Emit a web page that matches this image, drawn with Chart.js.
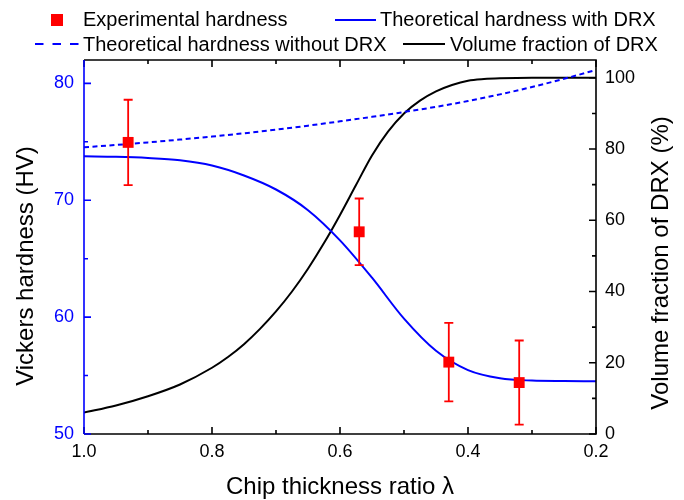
<!DOCTYPE html>
<html>
<head>
<meta charset="utf-8">
<script src="https://cdn.jsdelivr.net/npm/chart.js@4.4.1/dist/chart.umd.min.js"></script>
<style>
html,body{margin:0;padding:0;background:#fff;}
canvas{display:block;}
</style>
</head>
<body>
<canvas id="c" width="684" height="500"></canvas>
<script>
// ---- data ----
const lambdaCurve   = [1.00, 0.95, 0.90, 0.85, 0.80, 0.75, 0.70, 0.65, 0.60, 0.55, 0.50, 0.45, 0.40, 0.35, 0.30, 0.25, 0.20];
const hvWithDRX     = [73.76, 73.72, 73.62, 73.42, 72.97, 72.12, 70.92, 69.15, 66.57, 63.37, 59.87, 57.12, 55.47, 54.77, 54.57, 54.53, 54.52];
const hvWithoutDRX  = [74.53, 74.73, 74.95, 75.19, 75.45, 75.73, 76.04, 76.38, 76.75, 77.14, 77.55, 77.99, 78.49, 79.06, 79.69, 80.39, 81.15];

const lambdaDRX     = [1.00, 0.95, 0.90, 0.85, 0.80, 0.775, 0.75, 0.725, 0.70, 0.675, 0.65, 0.625, 0.60, 0.575, 0.55, 0.525, 0.50, 0.475, 0.45, 0.425, 0.40, 0.375, 0.35, 0.30, 0.25, 0.20];
const drxFraction   = [6.0, 8.0, 10.6, 13.9, 18.6, 21.6, 25.2, 29.5, 34.4, 40.0, 46.4, 53.6, 61.5, 69.9, 78.2, 84.9, 90.0, 93.6, 96.2, 98.0, 99.2, 99.65, 99.85, 100, 100, 100];

const lambdaExp = [0.931, 0.570, 0.430, 0.320];
const hvExp     = [74.95, 67.3, 56.15, 54.4];
const hvErr     = [3.65, 2.85, 3.35, 3.6];

const xTickValues       = [1.0, 0.8, 0.6, 0.4, 0.2];
const xMinorTickValues  = [0.9, 0.7, 0.5, 0.3];
const yLeftTickValues   = [50, 60, 70, 80];
const yLeftMinorValues  = [55, 65, 75];
const yRightTickValues  = [0, 20, 40, 60, 80, 100];
const yRightMinorValues = [10, 30, 50, 70, 90];

const legendLabels = ['Experimental hardness', 'Theoretical hardness with DRX', 'Theoretical hardness without DRX', 'Volume fraction of DRX'];
const xTitle = 'Chip thickness ratio \u03bb';
const yLeftTitle = 'Vickers hardness (HV)';
const yRightTitle = 'Volume fraction of DRX (%)';

// ---- styles ----
const FONT = '"Liberation Sans", Arial, Helvetica, sans-serif';
const RED = '#ff0000';
const BLUE = '#0000ff';
const BLACK = '#000000';
Chart.defaults.font.family = FONT;

const pts = (xs, ys) => xs.map((x, i) => ({x: x, y: ys[i]}));

const decor = {
  id: 'decor',
  afterDatasetsDraw(chart) {
    const {ctx, scales} = chart;
    const x = scales.x, yl = scales.yL;
    ctx.save();
    ctx.strokeStyle = RED;
    ctx.lineWidth = 1.8;
    lambdaExp.forEach((l, i) => {
      const px = x.getPixelForValue(l);
      const top = yl.getPixelForValue(hvExp[i] + hvErr[i]);
      const bot = yl.getPixelForValue(hvExp[i] - hvErr[i]);
      ctx.beginPath();
      ctx.moveTo(px, top); ctx.lineTo(px, bot);
      ctx.moveTo(px - 4.5, top); ctx.lineTo(px + 4.5, top);
      ctx.moveTo(px - 4.5, bot); ctx.lineTo(px + 4.5, bot);
      ctx.stroke();
    });
    ctx.restore();
  },
  afterDraw(chart) {
    const {ctx, chartArea: a, scales} = chart;
    const x = scales.x, yl = scales.yL, yr = scales.yR;
    ctx.save();
    ctx.lineWidth = 1.6;
    // frame
    ctx.strokeStyle = BLACK;
    ctx.beginPath();
    ctx.moveTo(a.left, a.top); ctx.lineTo(a.right, a.top); ctx.lineTo(a.right, a.bottom); ctx.lineTo(a.left, a.bottom);
    ctx.stroke();
    // inward ticks: x (bottom + top)
    const tick = (x1, y1, x2, y2) => { ctx.moveTo(x1, y1); ctx.lineTo(x2, y2); };
    ctx.beginPath();
    xTickValues.forEach(v => { const p = x.getPixelForValue(v); tick(p, a.bottom, p, a.bottom - 7); tick(p, a.top, p, a.top + 7); });
    xMinorTickValues.forEach(v => { const p = x.getPixelForValue(v); tick(p, a.bottom, p, a.bottom - 4); tick(p, a.top, p, a.top + 4); });
    // right axis ticks
    yRightTickValues.forEach(v => { const p = yr.getPixelForValue(v); tick(a.right, p, a.right - 7, p); });
    yRightMinorValues.forEach(v => { const p = yr.getPixelForValue(v); tick(a.right, p, a.right - 4, p); });
    ctx.stroke();
    // left axis (blue)
    ctx.strokeStyle = BLUE;
    ctx.beginPath();
    tick(a.left, a.top, a.left, a.bottom);
    yLeftTickValues.forEach(v => { const p = yl.getPixelForValue(v); tick(a.left, p, a.left + 7, p); });
    yLeftMinorValues.forEach(v => { const p = yl.getPixelForValue(v); tick(a.left, p, a.left + 4, p); });
    ctx.stroke();

    // axis titles
    ctx.fillStyle = BLACK;
    ctx.font = '24px ' + FONT;
    ctx.textAlign = 'center';
    ctx.textBaseline = 'alphabetic';
    ctx.fillText(xTitle, (a.left + a.right) / 2, 494);
    ctx.save();
    ctx.translate(33, 266);
    ctx.rotate(-Math.PI / 2);
    ctx.fillText(yLeftTitle, 0, 0);
    ctx.restore();
    ctx.save();
    ctx.translate(668, 263);
    ctx.rotate(-Math.PI / 2);
    ctx.fillText(yRightTitle, 0, 0);
    ctx.restore();

    // legend
    ctx.font = '20px ' + FONT;
    ctx.textAlign = 'left';
    ctx.fillStyle = RED;
    ctx.fillRect(51, 14, 12, 12);
    ctx.fillStyle = BLACK;
    ctx.fillText(legendLabels[0], 83, 26);
    ctx.fillText(legendLabels[1], 380, 26);
    ctx.fillText(legendLabels[2], 83, 51);
    ctx.fillText(legendLabels[3], 450, 51);
    ctx.lineWidth = 2;
    ctx.strokeStyle = BLUE;
    ctx.beginPath(); ctx.moveTo(335, 20); ctx.lineTo(376, 20); ctx.stroke();
    ctx.setLineDash([8.5, 9]);
    ctx.beginPath(); ctx.moveTo(35, 44); ctx.lineTo(78.5, 44); ctx.stroke();
    ctx.setLineDash([]);
    ctx.strokeStyle = BLACK;
    ctx.beginPath(); ctx.moveTo(403, 44); ctx.lineTo(445, 44); ctx.stroke();
    ctx.restore();
  }
};

new Chart(document.getElementById('c'), {
  type: 'line',
  data: {
    datasets: [
      {
        label: legendLabels[0], type: 'scatter', yAxisID: 'yL',
        data: pts(lambdaExp, hvExp),
        pointStyle: 'rect', pointRadius: 7.7, pointBorderWidth: 0,
        backgroundColor: RED, borderColor: RED, showLine: false
      },
      {
        label: legendLabels[1], yAxisID: 'yL',
        data: pts(lambdaCurve, hvWithDRX),
        borderColor: BLUE, borderWidth: 2, pointRadius: 0, fill: false,
        cubicInterpolationMode: 'monotone'
      },
      {
        label: legendLabels[2], yAxisID: 'yL',
        data: pts(lambdaCurve, hvWithoutDRX),
        borderColor: BLUE, borderWidth: 2, borderDash: [5, 3.5], pointRadius: 0, fill: false,
        cubicInterpolationMode: 'monotone'
      },
      {
        label: legendLabels[3], yAxisID: 'yR',
        data: pts(lambdaDRX, drxFraction),
        borderColor: BLACK, borderWidth: 2, pointRadius: 0, fill: false,
        cubicInterpolationMode: 'monotone'
      }
    ]
  },
  options: {
    responsive: false,
    animation: false,
    devicePixelRatio: 1,
    layout: { padding: { top: 60, left: 0, right: 0, bottom: 0 } },
    plugins: { legend: { display: false }, tooltip: { enabled: false }, title: { display: false } },
    scales: {
      x: {
        type: 'linear', position: 'bottom', reverse: true, min: 0.2, max: 1.0,
        afterBuildTicks: s => { s.ticks = xTickValues.map(v => ({value: v})); },
        afterFit: s => { s.height = 66; },
        grid: { display: false, drawTicks: false }, border: { display: false },
        ticks: { autoSkip: false, maxRotation: 0, color: BLACK, font: { size: 18 }, padding: 7, callback: v => Number(v).toFixed(1) }
      },
      yL: {
        type: 'linear', position: 'left', min: 50, max: 82,
        afterBuildTicks: s => { s.ticks = yLeftTickValues.map(v => ({value: v})); },
        afterFit: s => { s.width = 84; },
        grid: { display: false, drawTicks: false }, border: { display: false },
        ticks: { autoSkip: false, color: BLUE, font: { size: 18 }, padding: 10, callback: v => String(v) }
      },
      yR: {
        type: 'linear', position: 'right', min: 0, max: 105,
        afterBuildTicks: s => { s.ticks = yRightTickValues.map(v => ({value: v})); },
        afterFit: s => { s.width = 88; },
        grid: { display: false, drawTicks: false }, border: { display: false },
        ticks: { autoSkip: false, color: BLACK, font: { size: 18 }, padding: 9, callback: v => String(v) }
      }
    }
  },
  plugins: [decor]
});
</script>
</body>
</html>
